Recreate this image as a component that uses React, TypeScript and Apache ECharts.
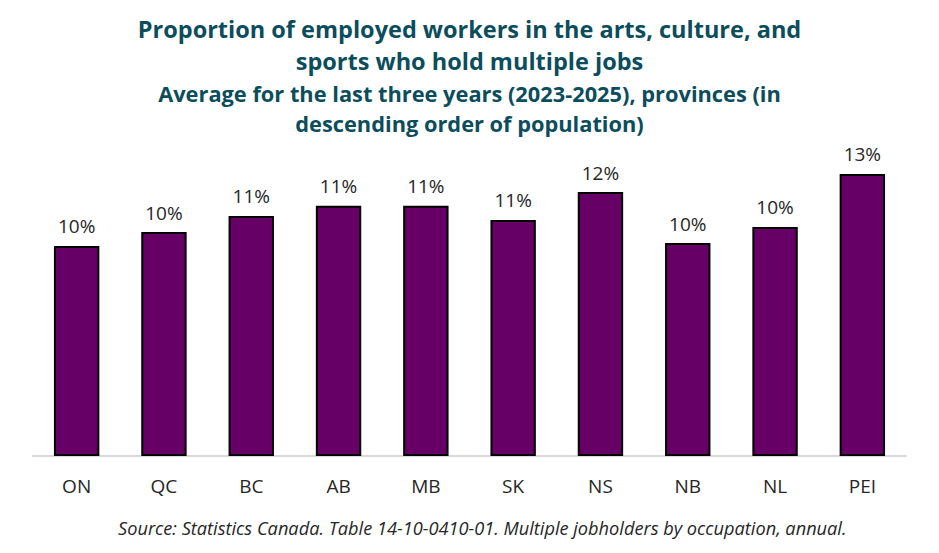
import React, { useEffect, useRef } from "react";
import * as echarts from "echarts";

const categories = ["ON", "QC", "BC", "AB", "MB", "SK", "NS", "NB", "NL", "PEI"];
const values = [0.0955, 0.1018, 0.1091, 0.1138, 0.1138, 0.1073, 0.12, 0.0968, 0.1041, 0.1282];

const titleText = "Proportion of employed workers in the arts, culture, and\nsports who hold multiple jobs";
const subtitleText = "Average for the last three years (2023-2025), provinces (in\ndescending order of population)";
const sourceText = "Source: Statistics Canada. Table 14-10-0410-01. Multiple jobholders by occupation, annual.";

const FONT = "'Open Sans', 'Noto Sans', sans-serif";

export default function App() {
  const ref = useRef<HTMLDivElement>(null);
  useEffect(() => {
    if (!ref.current) return;
    const chart = echarts.init(ref.current, undefined, { renderer: "svg" });
    chart.setOption({
      animation: false,
      backgroundColor: "#ffffff",
      title: [
        {
          text: titleText,
          left: "center",
          top: 0,
          textStyle: { fontFamily: FONT, fontSize: 23.5, fontWeight: "bold", color: "#0b4d5c", lineHeight: 32 },
        },
        {
          text: subtitleText,
          left: "center",
          top: 65,
          textStyle: { fontFamily: FONT, fontSize: 21.8, fontWeight: "bold", color: "#0b4d5c", lineHeight: 30 },
        },
      ],
      grid: { left: 25, right: 25, top: 456 - 0.14 * 2200 - 8, bottom: 553 - 8 - 456, containLabel: false },
      xAxis: {
        type: "category",
        data: categories,
        axisLine: { lineStyle: { color: "#d9d9d9", width: 2 } },
        axisTick: { show: false },
        axisLabel: { fontFamily: FONT, fontSize: 19, color: "#262626", margin: 20 },
      },
      yAxis: {
        type: "value",
        min: 0,
        max: 0.14,
        show: false,
        splitLine: { show: false },
      },
      series: [
        {
          type: "bar",
          data: values,
          barWidth: "52%",
          itemStyle: { color: "#660066", borderColor: "#000000", borderWidth: 2 },
          label: {
            show: true,
            position: "top",
            distance: 10,
            fontFamily: FONT,
            fontSize: 19,
            color: "#262626",
            formatter: (p: any) => Math.round(p.value * 100) + "%",
          },
        },
      ],
      graphic: [
        {
          type: "text",
          left: 110,
          top: 511,
          style: { text: sourceText, font: `italic 18.2px ${FONT}`, fill: "#262626" },
        },
      ],
    });
    return () => chart.dispose();
  }, []);
  return <div ref={ref} style={{ width: 923, height: 537 }} />;
}
